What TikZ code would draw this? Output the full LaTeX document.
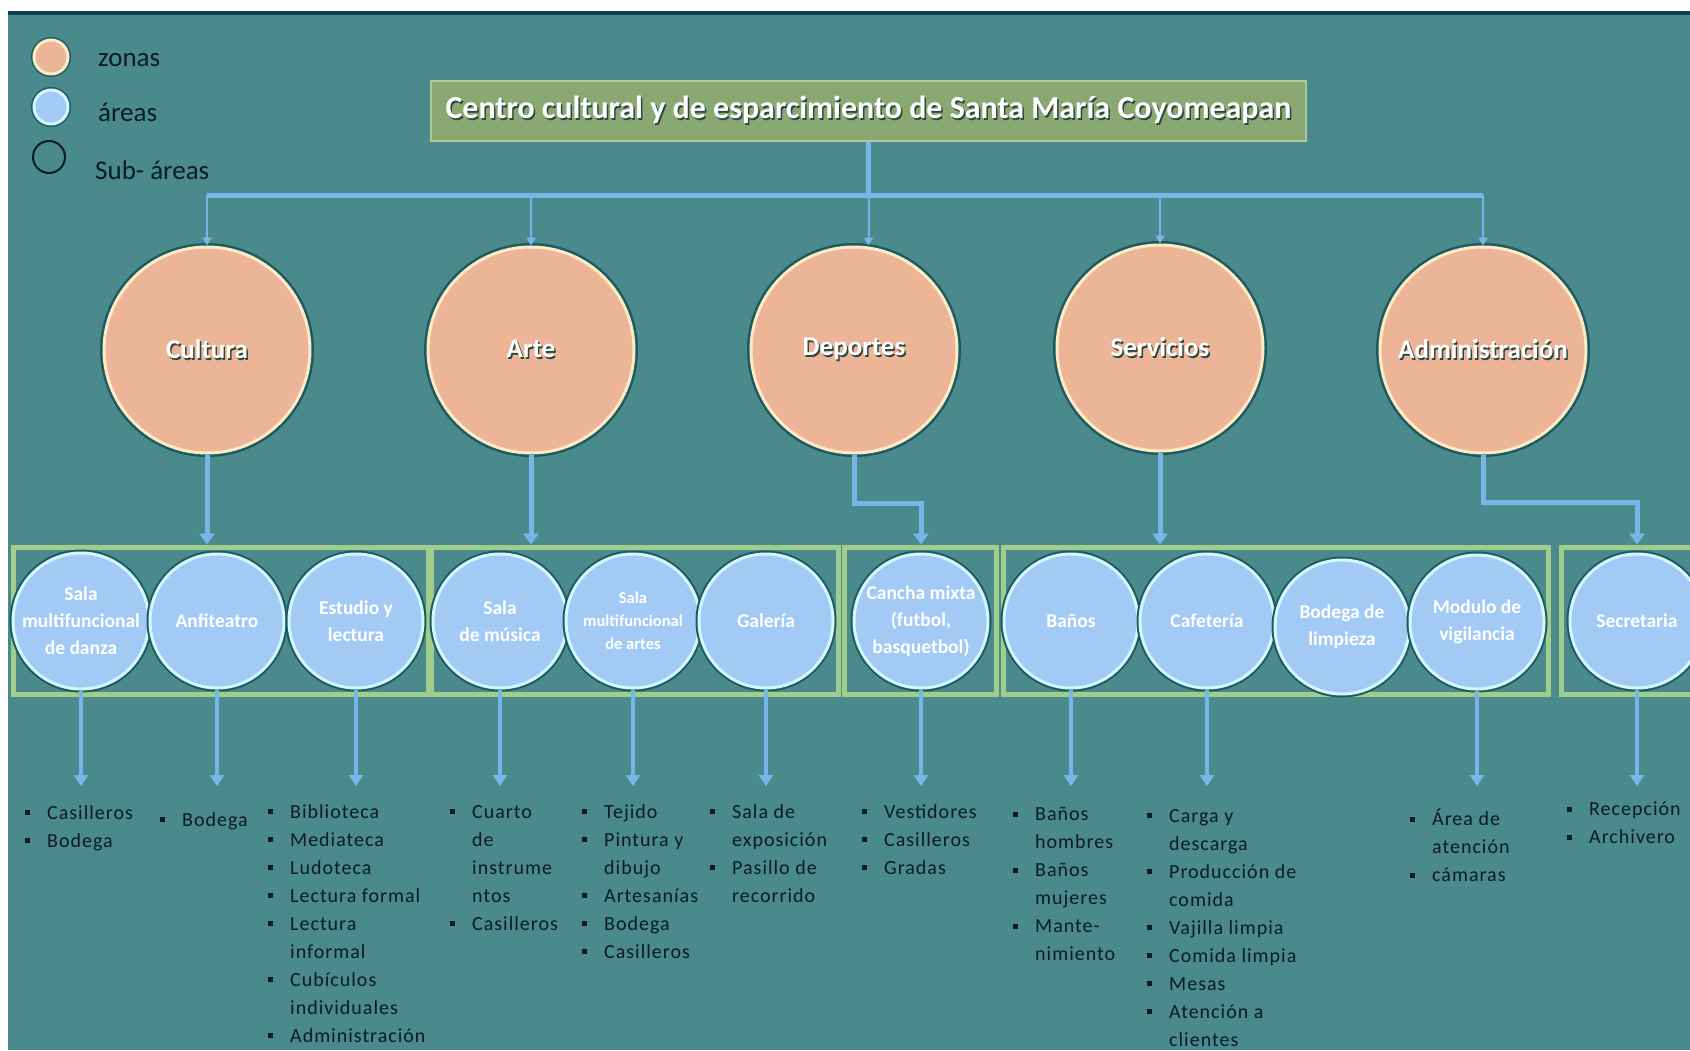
\documentclass[tikz,border=0pt]{standalone}
\usepackage{fontspec}
\setmainfont{Carlito}
\usetikzlibrary{arrows.meta,positioning}
\definecolor{bgc}{HTML}{4A898C}
\definecolor{topc}{HTML}{0D4049}
\definecolor{zonec}{HTML}{EDB597}
\definecolor{zoneb}{HTML}{FAEBC6}
\definecolor{areac}{HTML}{A2CAF4}
\definecolor{areab}{HTML}{D3F6FF}
\definecolor{ringc}{HTML}{1D5A5E}
\definecolor{linec}{HTML}{78B6EA}
\definecolor{grpc}{HTML}{A1CD8C}
\definecolor{titc}{HTML}{8AA872}
\definecolor{titb}{HTML}{B0C99A}
\definecolor{txtc}{HTML}{0B1C26}
\definecolor{shdc}{HTML}{2B4A40}
% white labels with a dark drop shadow
\newcommand\shd[1]{\leavevmode\rlap{\kern1.5pt\raisebox{-1.5pt}{\textcolor{shdc}{#1}}}#1}
% list bullets
\newcommand\bl{\makebox[22pt][l]{\raisebox{4pt}{\rule{5pt}{5pt}}}}
\newcommand\ct{\hspace*{22pt}}
\tikzset{
  zone/.style={circle,fill=zonec,draw=zoneb,line width=3pt,minimum size=206pt,
    inner sep=0pt,preaction={draw=ringc,line width=8pt},text=white,
    font=\fontsize{27}{30}\selectfont\bfseries},
  area/.style={circle,fill=areac,draw=areab,line width=3pt,minimum size=134pt,
    inner sep=0pt,align=center,preaction={draw=ringc,line width=7pt},text=white,
    font=\fontsize{19.5}{27}\selectfont\bfseries},
  grp/.style={draw=grpc,line width=5pt,minimum height=147pt,inner sep=0pt},
  title/.style={fill=titc,draw=titb,line width=2pt,minimum width=875pt,
    minimum height=60pt,text=white,font=\fontsize{32}{34}\selectfont\bfseries},
  sublist/.style={anchor=north west,align=left,inner sep=0pt,text=txtc,
    font=\fontsize{20}{28}\selectfont\addfontfeature{LetterSpace=5}},
  legdot/.style={circle,minimum size=34pt,inner sep=0pt,line width=3pt,
    preaction={draw=ringc,line width=6pt}},
  legring/.style={circle,minimum size=32pt,inner sep=0pt,draw=txtc,line width=2pt},
  legtxt/.style={anchor=west,inner sep=0pt,text=txtc,font=\fontsize{27}{30}\selectfont},
  bus/.style={draw=linec,line width=5pt},
  drop/.style={draw=linec,line width=2pt,-{Triangle[width=9pt,length=8pt]}},
  feed/.style={draw=linec,line width=5pt,-{Triangle[width=15pt,length=11pt]}},
  down/.style={draw=linec,line width=4pt,-{Triangle[width=14pt,length=11pt]}}
}
\begin{document}
\begin{tikzpicture}[x=1pt,y=-1pt]
  \clip (0,0) rectangle (1690,1050);
  \fill[white] (0,0) rectangle (1690,1050);
  \fill[bgc] (8,13) rectangle (1690,1050);
  \fill[topc] (8,11) rectangle (1690,14.5);

  % legend
  \node[legdot,fill=zonec,draw=zoneb] (lz) at (51,57) {};
  \node[legdot,fill=areac,draw=areab] (la) at (51,107) {};
  \node[legring] (ls) at (49,157) {};
  \node[legtxt] (tz) at (98,60) {zonas};
  \node[legtxt] (ta) at (98,112) {áreas};
  \node[legtxt] (ts) at (95,170) {Sub- áreas};

  % title and zones
  \node[title] (tit) at (868.5,111) {\shd{Centro cultural y de esparcimiento de Santa María Coyomeapan}};
  \coordinate (busL) at (207,195);
  \coordinate (busR) at (1483,195);
  \node[zone] (cul) at (207,350) {\shd{Cultura}};
  \node[zone] (art) at (531,350) {\shd{Arte}};
  \node[zone] (dep) at (854,350) {\shd{Deportes}};
  \node[zone] (ser) at (1160,348) {\shd{Servicios}};
  \node[zone] (adm) at (1483,350) {\shd{Administración}};

  \draw[bus] (busL) -- (busR);
  \draw[bus] (tit.south) -- (tit.south |- busL);
  \draw[drop] (cul |- busL) -- (cul);
  \draw[drop] (art |- busL) -- (art);
  \draw[drop] (tit.south |- busL) -- (tit.south |- dep.north);
  \draw[drop] (ser |- busL) -- (ser);
  \draw[drop] (adm |- busL) -- (adm);

  % groups of areas
  \node[grp,minimum width=415pt] (gcul) at (220.5,620.5) {};
  \node[grp,minimum width=407pt] (gart) at (634.5,620.5) {};
  \node[grp,minimum width=152pt] (gdep) at (920,620.5) {};
  \node[grp,minimum width=545pt] (gser) at (1275.5,620.5) {};
  \node[grp,minimum width=160pt] (gadm) at (1641,620.5) {};

  \node[area] (danza) at (81,621) {Sala\\multifuncional\\de danza};
  \node[area] (anfi) at (217,621) {Anfiteatro};
  \node[area] (estu) at (356,621) {Estudio y\\lectura};
  \node[area] (musi) at (500,621) {Sala\\de música};
  \node[area,font=\fontsize{16.5}{23}\selectfont\bfseries] (mart) at (633,621) {Sala\\multifuncional\\de artes};
  \node[area] (gale) at (766,621) {Galería};
  \node[area] (canc) at (921,621) {Cancha mixta\\(futbol,\\basquetbol)};
  \node[area] (banos) at (1071,621) {Baños};
  \node[area] (cafe) at (1207,621) {Cafetería};
  \node[area] (bodl) at (1342,627) {Bodega de\\limpieza};
  \node[area] (modv) at (1477,622) {Modulo de\\vigilancia};
  \node[area] (secr) at (1637,621) {Secretaria};

  \draw[feed] (cul) -- (cul |- gcul.north);
  \draw[feed] (art) -- (art |- gart.north);
  \draw[feed] (dep.south) -- ++(0,49) -| (canc |- gdep.north);
  \draw[feed] (ser) -- (ser |- gser.north);
  \draw[feed] (adm.south) -- ++(0,48) -| (secr |- gadm.north);

  % sub-areas
  \coordinate (tips) at (0,786);
  \node[sublist] (l-danza) at (25,805) {\bl Casilleros\\ \bl Bodega};
  \node[sublist] (l-anfi) at (160,812) {\bl Bodega};
  \node[sublist] (l-estu) at (268,804) {\bl Biblioteca\\ \bl Mediateca\\ \bl Ludoteca\\
    \bl Lectura formal\\ \bl Lectura\\ \ct informal\\ \bl Cubículos\\ \ct individuales\\
    \bl Administración};
  \node[sublist] (l-musi) at (450,805) {\bl Cuarto\\ \ct de\\ \ct instrume\\ \ct ntos\\ \bl Casilleros};
  \node[sublist] (l-mart) at (582,804) {\bl Tejido\\ \bl Pintura y\\ \ct dibujo\\ \bl Artesanías\\
    \bl Bodega\\ \bl Casilleros};
  \node[sublist] (l-gale) at (710,804) {\bl Sala de\\ \ct exposición\\ \bl Pasillo de\\ \ct recorrido};
  \node[sublist] (l-canc) at (862,804) {\bl Vestidores\\ \bl Casilleros\\ \bl Gradas};
  \node[sublist] (l-banos) at (1013,807) {\bl Baños\\ \ct hombres\\ \bl Baños\\ \ct mujeres\\
    \bl Mante-\\ \ct nimiento};
  \node[sublist] (l-cafe) at (1147,809) {\bl Carga y\\ \ct descarga\\ \bl Producción de\\ \ct comida\\
    \bl Vajilla limpia\\ \bl Comida limpia\\ \bl Mesas\\ \bl Atención a\\ \ct clientes};
  \node[sublist] (l-modv) at (1410,809) {\bl Área de\\ \ct atención\\ \bl cámaras};
  \node[sublist] (l-secr) at (1567,802) {\bl Recepción\\ \bl Archivero};

  \foreach \a in {danza,anfi,estu,musi,mart,gale,canc,banos,cafe,modv,secr}
    \draw[down] (\a) -- (\a |- tips);
\end{tikzpicture}
\end{document}
